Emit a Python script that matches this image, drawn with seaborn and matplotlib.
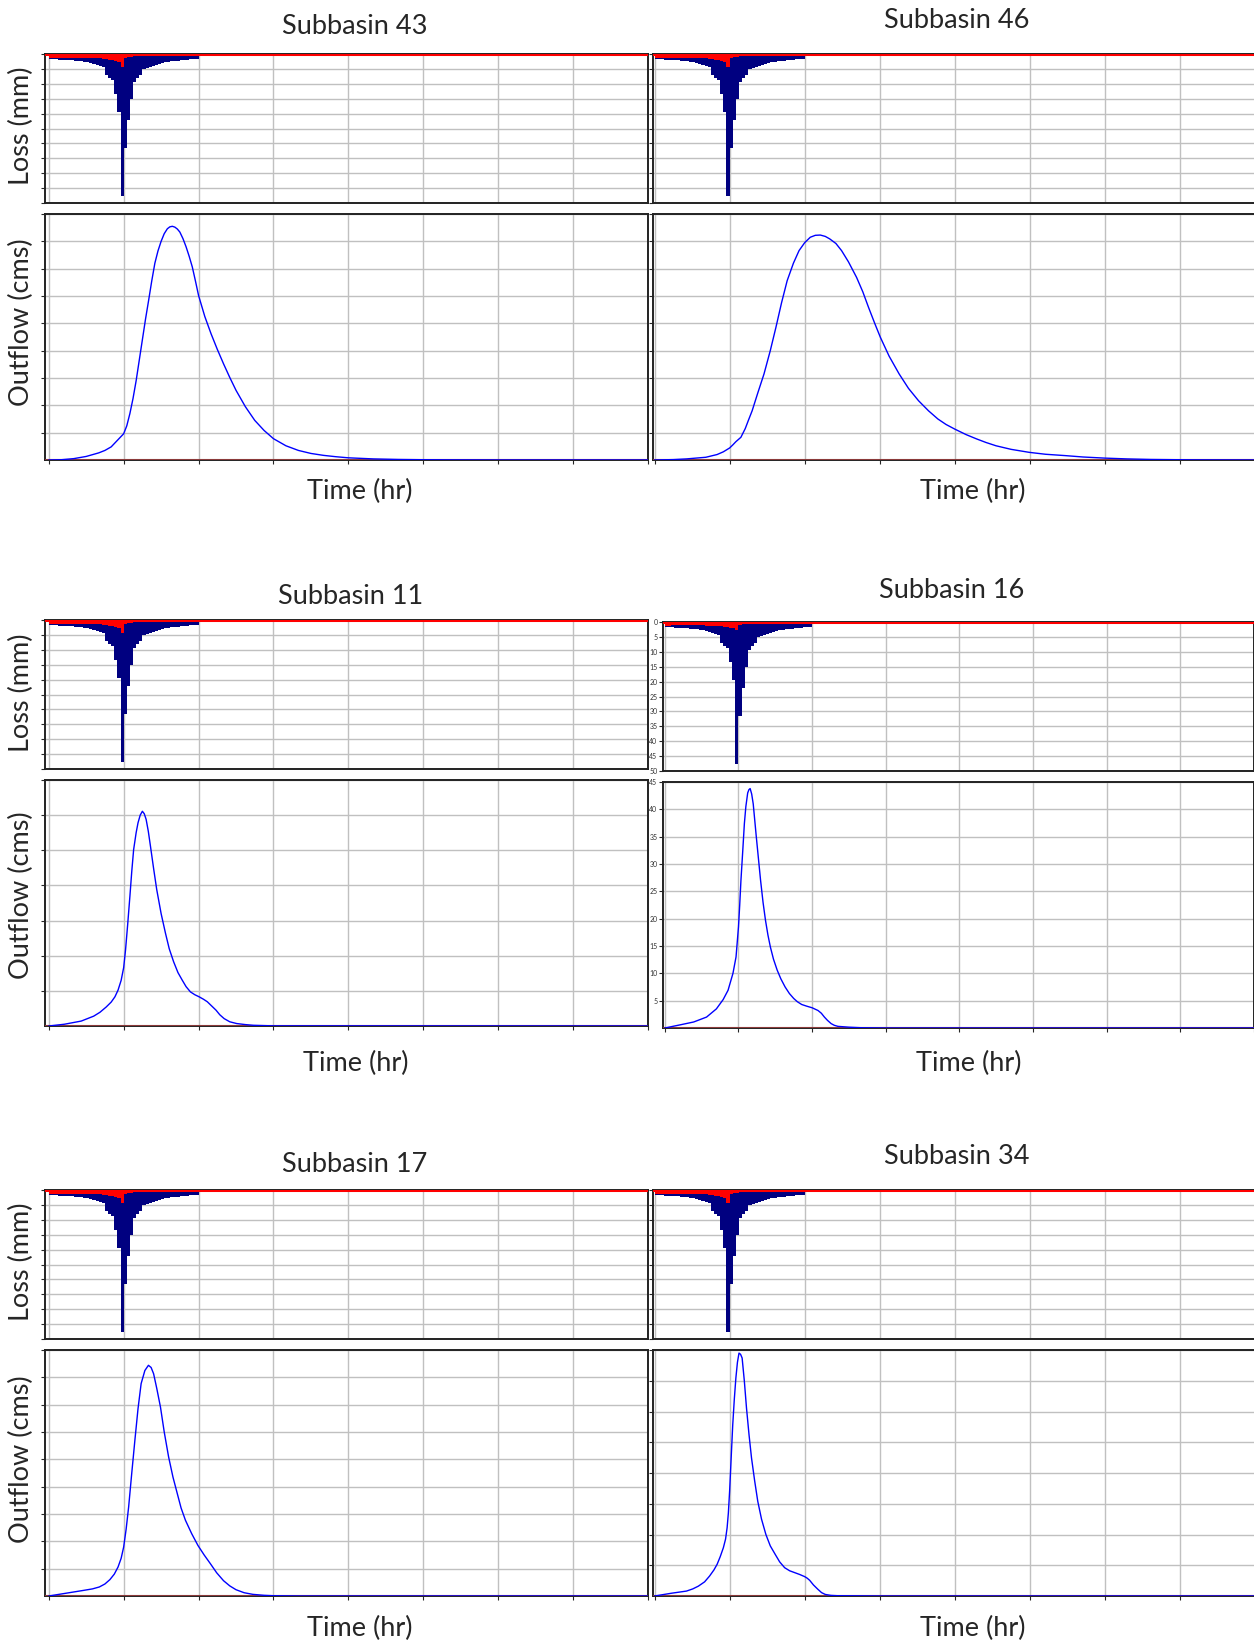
import numpy as np
import matplotlib
matplotlib.use("Agg")
import matplotlib.pyplot as plt
import seaborn as sns

sns.set_style("white")
plt.rcParams['font.family'] = ['Lato', 'DejaVu Sans']

# 30-min precipitation / loss depths (mm) for the 24-hr storm
PRECIP = [1.7, 1.75, 1.8, 1.85, 1.9, 2.0, 2.05, 2.15, 2.25, 2.35,
          2.5, 2.65, 2.85, 3.1, 3.4, 3.7, 3.9, 4.5, 6.9, 8.2,
          8.8, 13.5, 19.5, 47.5, 31.5, 22.0, 15.0, 9.3, 8.0, 7.0,
          5.2, 4.6, 4.2, 3.9, 3.6, 3.3, 3.0, 2.8, 2.6, 2.5,
          2.3, 2.2, 2.1, 2.0, 1.9, 1.8, 1.7, 1.6]
LOSS_A = [1.5, 1.5, 1.45, 1.45, 1.4, 1.4, 1.4, 1.35, 1.35, 1.35,
          1.3, 1.3, 1.3, 1.35, 1.4, 1.45, 1.5, 1.6, 1.7, 1.9,
          2.1, 2.4, 2.8, 4.4, 1.2, 1.0, 0.9, 0.8, 0.75, 0.7,
          0.7, 0.65, 0.65, 0.6, 0.6, 0.6, 0.55, 0.55, 0.55, 0.5,
          0.5, 0.5, 0.5, 0.45, 0.45, 0.45, 0.45, 0.4]
LOSS_B = [1.2, 1.2, 1.15, 1.15, 1.1, 1.1, 1.1, 1.1, 1.1, 1.1,
          1.1, 1.1, 1.15, 1.2, 1.25, 1.3, 1.35, 1.4, 1.5, 1.6,
          1.75, 1.9, 2.1, 2.7, 0.9, 0.8, 0.7, 0.65, 0.6, 0.55,
          0.55, 0.5, 0.5, 0.5, 0.45, 0.45, 0.45, 0.45, 0.4, 0.4,
          0.4, 0.4, 0.4, 0.35, 0.35, 0.35, 0.35, 0.35]
BAR_TIME = np.arange(0.25, 24, 0.5)

# outflow hydrographs (hr, cms)
hours_43 = [0, 2, 4, 6, 8, 9, 10, 11, 12, 12.5, 13, 13.5, 14, 14.5, 15, 15.5, 16, 16.5,
            17, 17.5, 18, 18.5, 19, 19.4, 19.8, 20.2, 20.6, 21, 21.5, 22, 22.5, 23, 23.5,
            24, 25, 26, 27, 28, 29, 30, 31.5, 33, 34.5, 36, 38, 40, 42, 44, 46, 48, 52,
            56, 60, 64, 72, 96]
flow_43 = [0, 0.1, 0.5, 1.3, 2.6, 3.5, 4.8, 7.2, 9.6, 12.5, 17, 22.5, 29, 36.5, 44, 51.5,
           58.4, 65.5, 72, 76.5, 80, 82.8, 84.6, 85.3, 85.5, 85.2, 84.5, 83.4, 81, 78,
           74.5, 70.6, 65.5, 60.2, 52.5, 46.2, 40.5, 35.2, 30.2, 25.5, 19.5, 14.5, 10.8,
           7.8, 5.2, 3.5, 2.4, 1.7, 1.2, 0.8, 0.4, 0.2, 0.1, 0.05, 0.01, 0]

hours_46 = [0, 3, 5.1, 8.2, 10, 11, 12, 12.5, 13, 13.8, 14.5, 15, 15.6, 16.5, 17.5, 18.5,
            19.4, 20.3, 21.2, 22.2, 23.1, 24, 24.9, 25.7, 26.5, 27.3, 28, 29, 29.9, 31,
            32.3, 33.3, 34.2, 35.2, 36.1, 37.5, 39.1, 40.6, 42.2, 43.8, 45.3, 46.6, 48,
            49.8, 51.5, 53, 54.6, 57, 59.9, 62.5, 65.7, 68.5, 71.9, 75.5, 79.3, 86, 96]
flow_46 = [0, 0.15, 0.4, 1, 2, 3, 4.4, 5.5, 6.7, 8.3, 11.5, 14.5, 18, 24.5, 31.5, 40,
           48.5, 57.5, 65.6, 72, 76.6, 79.5, 81.5, 82.2, 82.3, 81.8, 80.9, 79.2, 76.6,
           72.5, 66.8, 61.5, 55.9, 50, 44.9, 38, 31.5, 26.2, 21.7, 18, 15, 13, 11.3, 9.3,
           7.7, 6.4, 5.2, 3.9, 2.8, 2.1, 1.6, 1.1, 0.7, 0.4, 0.2, 0.05, 0]

hours_11 = [0, 2.5, 5.2, 7.2, 8.2, 9.2, 10, 10.6, 11.1, 11.6, 12, 12.3, 12.65, 13, 13.3,
            13.6, 14, 14.3, 14.65, 15, 15.3, 15.6, 15.95, 16.3, 16.8, 17.3, 18, 18.7,
            19.3, 20, 20.7, 21.4, 22, 22.7, 23.4, 24.1, 24.8, 25.4, 26.1, 26.8, 27.4,
            28.1, 29, 30.1, 31.5, 32.8, 36, 96]
flow_11 = [0, 0.25, 0.7, 1.4, 1.95, 2.7, 3.4, 4.15, 5.1, 6.5, 8.3, 10.8, 14.5, 18.45, 22,
           25.1, 27.5, 28.9, 30, 30.55, 30.2, 29.4, 27.7, 25.55, 22.4, 19.4, 16, 13.2, 11,
           9.15, 7.6, 6.5, 5.6, 4.85, 4.45, 4.15, 3.8, 3.45, 2.85, 2.25, 1.6, 1.05, 0.6,
           0.35, 0.2, 0.1, 0.02, 0]

hours_16 = [0, 2.6, 4.7, 6.8, 8.4, 9.5, 10.3, 11.1, 11.6, 12, 12.2, 12.4, 12.7, 12.96,
            13.2, 13.5, 13.7, 13.9, 14.15, 14.4, 14.9, 15.25, 15.6, 16, 16.4, 16.8, 17.2,
            17.7, 18.3, 18.9, 19.6, 20.3, 21, 21.6, 22.3, 23.1, 24, 24.96, 25.5, 26, 26.5,
            27.1, 27.6, 28.2, 30, 32, 36, 96]
flow_16 = [0, 0.6, 1.1, 2, 3.5, 5.2, 6.9, 10, 13, 18.5, 22.5, 27, 32.5, 37.4, 40.5, 43,
           43.6, 43.8, 42.8, 41, 35, 31, 27, 23, 19.7, 17, 14.8, 12.6, 10.6, 9, 7.5, 6.3,
           5.4, 4.8, 4.3, 4.0, 3.7, 3.2, 2.7, 2, 1.4, 0.8, 0.5, 0.3, 0.15, 0.05, 0, 0]

hours_17 = [0, 3, 5.7, 7, 8.1, 9, 9.8, 10.5, 11.1, 11.6, 12, 12.4, 12.8, 13.3, 13.8, 14.3,
            14.8, 15.4, 15.97, 16.4, 16.8, 17.3, 17.9, 18.5, 19.2, 19.9, 20.6, 21.2, 21.9,
            22.9, 23.9, 24.9, 25.9, 26.9, 28, 29, 30, 31.3, 32.7, 34.5, 36, 40, 96]
flow_17 = [0, 1.1, 2.1, 2.6, 3.3, 4.4, 6, 8, 10.6, 13.8, 17.9, 24.5, 32.6, 45, 57, 68.5,
           77.7, 82.5, 84.4, 83.6, 81.3, 76, 69.1, 60, 50.9, 43.5, 37.4, 32.2, 27.7, 22.8,
           18.5, 15, 11.8, 8.5, 5.6, 3.7, 2.3, 1.2, 0.6, 0.25, 0.1, 0, 0]

hours_34 = [0, 2.7, 5.1, 6.1, 7, 8, 8.8, 9.5, 10, 10.5, 11, 11.35, 11.6, 11.8, 12, 12.25,
            12.5, 12.75, 13, 13.25, 13.5, 13.75, 14, 14.35, 14.7, 15.1, 15.5, 16, 16.5,
            17.1, 17.8, 18.5, 19.3, 20, 20.8, 21.6, 22.4, 23.2, 24, 24.4, 24.8, 25.4, 26.1,
            26.7, 27.3, 28.2, 29.2, 36, 96]
flow_34 = [0, 0.9, 1.6, 2.3, 3.2, 4.6, 6.5, 8.5, 10.3, 12.8, 15.7, 18.5, 22.2, 27, 34.1,
           45, 55.7, 64, 70.9, 76, 79, 78.6, 77.4, 70, 61.1, 52.5, 44.9, 37.5, 30.8, 25,
           20, 16.3, 13.5, 11.1, 9.2, 8.2, 7.6, 7.0, 6.3, 5.8, 5.1, 3.6, 2.2, 1.1, 0.5,
           0.2, 0.1, 0, 0]

W, H = 1254, 1645
fig = plt.figure(figsize=(W / 100, H / 100), dpi=100)

GRID = '#c0c0c0'
X_TICKS = np.arange(0, 97, 12)
FS = 19.5


def box(x0, x1, y0, y1):
    # pixel box -> figure fraction rect
    return [x0 / W, 1 - y1 / H, (x1 - x0) / W, (y1 - y0) / H]


def style(ax, labels):
    ax.grid(True, color=GRID, linewidth=1)
    ax.set_axisbelow(True)
    ax.set_xlabel('')
    ax.set_ylabel('')
    for s in ax.spines.values():
        s.set_color('#222222')
        s.set_linewidth(1.4)
    if not labels:
        ax.set_yticklabels([])
    ax.set_xticklabels([])
    ax.tick_params(axis='y', direction='out', length=3, width=0.8, pad=1,
                   labelsize=5, labelcolor='#333333', left=True)


def loss_panel(ax, loss, x_min, labels=False):
    sns.barplot(x=BAR_TIME, y=PRECIP, native_scale=True, color='#000080', width=1,
                errorbar=None, linewidth=0, saturation=1, ax=ax)
    sns.barplot(x=BAR_TIME, y=loss, native_scale=True, color='#ff0000', width=1,
                errorbar=None, linewidth=0, saturation=1, ax=ax)
    ax.axhline(0, color='#ff0000', linewidth=2.2, zorder=5)
    ax.set_xlim(x_min, 96)
    ax.set_ylim(50, 0)
    ax.set_xticks(X_TICKS)
    ax.set_yticks(np.arange(0, 51, 5))
    style(ax, labels)
    ax.tick_params(axis='x', length=0)


def flow_panel(ax, hours, flow, top, step, x_min, labels=False):
    ax.axhline(0, color='#8b3a3a', linewidth=1.5, zorder=3)
    sns.lineplot(x=hours, y=flow, color='#0000ff', linewidth=1.0, ax=ax, zorder=4)
    ax.set_xlim(x_min, 96)
    ax.set_ylim(0, top)
    ax.set_xticks(X_TICKS)
    ax.set_yticks(np.arange(step, top + 0.1, step))
    style(ax, labels)
    ax.tick_params(axis='x', direction='out', length=3, width=0.8, bottom=True)


panels = [
    # title, loss, hours, flow, ymax, step, x0, x1, xmin, rows(y), title xy, time xy, labels
    ('Subbasin 43', LOSS_A, hours_43, flow_43, 90, 10, 45, 648, -0.6,
     (54, 203, 214, 460), (355, 27), (360, 491), False),
    ('Subbasin 46', LOSS_A, hours_46, flow_46, 90, 10, 653, 1255, -0.25,
     (54, 203, 214, 460), (957, 21), (973, 491), False),
    ('Subbasin 11', LOSS_A, hours_11, flow_11, 35, 5, 45, 648, -0.6,
     (620, 769, 780, 1026), (351, 596), (356, 1063), False),
    ('Subbasin 16', LOSS_B, hours_16, flow_16, 45, 5, 663, 1254, -0.3,
     (622, 771, 782, 1028), (952, 591), (969, 1063), True),
    ('Subbasin 17', LOSS_A, hours_17, flow_17, 90, 10, 45, 648, -0.6,
     (1190, 1339, 1350, 1596), (355, 1164), (360, 1628), False),
    ('Subbasin 34', LOSS_A, hours_34, flow_34, 80, 10, 653, 1255, -0.25,
     (1190, 1339, 1350, 1596), (957, 1157), (973, 1628), False),
]

for title, loss, hrs, flw, top, step, x0, x1, xmin, ys, tpos, lpos, labels in panels:
    ax_loss = fig.add_axes(box(x0, x1, ys[0], ys[1]))
    loss_panel(ax_loss, loss, xmin, labels)
    ax_flow = fig.add_axes(box(x0, x1, ys[2], ys[3]))
    flow_panel(ax_flow, hrs, flw, top, step, xmin, labels)
    fig.text(tpos[0] / W, 1 - tpos[1] / H, title, ha='center', va='center', fontsize=FS)
    fig.text(lpos[0] / W, 1 - lpos[1] / H, 'Time (hr)', ha='center', va='center', fontsize=FS)

# y labels only on the left column
for yl, yo in [(126, 322), (693, 895), (1262, 1459)]:
    fig.text(21 / W, 1 - yl / H, 'Loss (mm)', rotation=90, ha='center', va='center', fontsize=FS)
    fig.text(21 / W, 1 - yo / H, 'Outflow (cms)', rotation=90, ha='center', va='center', fontsize=FS)

fig.savefig('out.png', dpi=100)
